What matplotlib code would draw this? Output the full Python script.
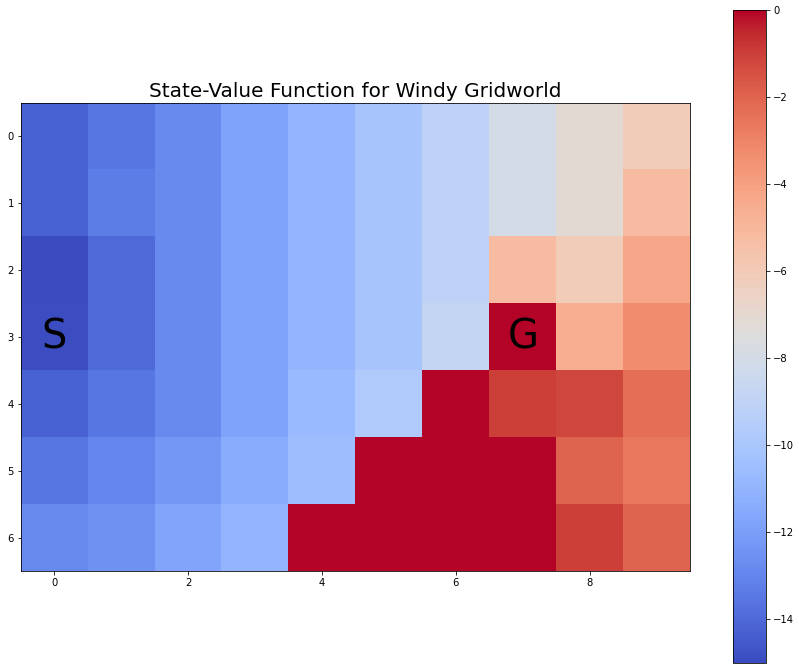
import matplotlib
matplotlib.use("Agg")
import matplotlib.pyplot as plt
import numpy as np

# State values (rows 0-6, columns 0-9).
row0 = [-14.2, -13.5, -12.8, -11.8, -10.9, -10.1, -9.1, -8.0, -7.1, -6.1]
row1 = [-14.2, -13.3, -12.8, -11.8, -10.9, -10.1, -9.1, -8.0, -7.1, -5.2]
row2 = [-15.0, -14.0, -12.8, -11.8, -10.9, -10.1, -9.1, -5.2, -6.1, -4.3]
row3 = [-14.9, -14.0, -12.8, -11.8, -10.9, -10.1, -8.8, 0.0, -4.6, -3.3]
row4 = [-14.2, -13.5, -12.8, -11.8, -10.7, -9.7, 0.0, -1.0, -1.2, -2.3]
row5 = [-13.5, -13.0, -12.3, -11.4, -10.5, 0.0, 0.0, 0.0, -2.0, -2.6]
row6 = [-12.8, -12.5, -11.7, -10.9, 0.0, 0.0, 0.0, 0.0, -1.0, -2.0]

start = (3, 0)
goal = (3, 7)

values = np.array([row0, row1, row2, row3, row4, row5, row6])

fig = plt.figure(figsize=(799/72, 670/72), dpi=72)
ax = fig.add_axes([21/799, 98/670, 669/799, 470/670])
cax = fig.add_axes([733/799, 7/670, 33/799, 653/670])

im = ax.imshow(values, cmap="coolwarm")
fig.colorbar(im, cax=cax)

ax.text(start[1], start[0], "S", fontsize=40, ha="center", va="center")
ax.text(goal[1], goal[0], "G", fontsize=40, ha="center", va="center")

ax.set_title("State-Value Function for Windy Gridworld", fontsize=20)

plt.savefig("out.png", dpi=72)
